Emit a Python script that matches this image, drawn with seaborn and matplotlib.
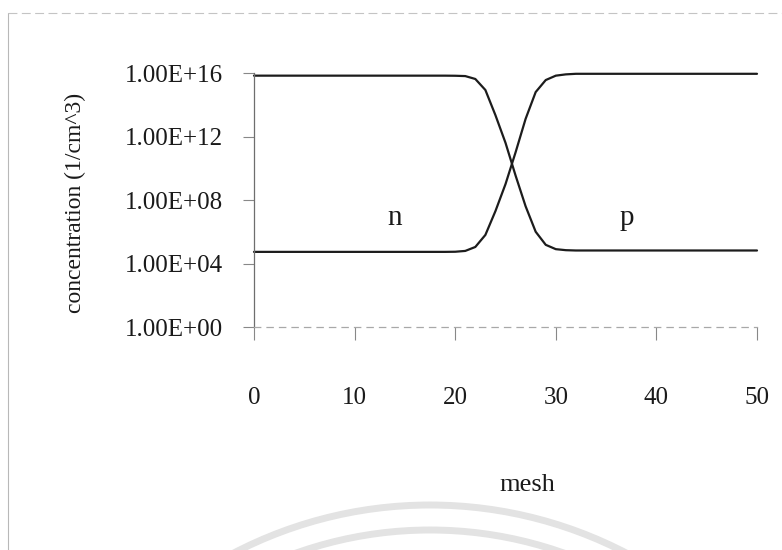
import matplotlib
matplotlib.use("Agg")
import matplotlib.pyplot as plt
from matplotlib.lines import Line2D
from matplotlib.patches import Arc
from matplotlib.ticker import NullLocator
import pandas as pd
import seaborn as sns

# Mesh index across the p-n junction
mesh = [0, 1, 2, 3, 4, 5, 6, 7, 8, 9, 10, 11, 12, 13, 14, 15, 16, 17, 18, 19, 20,
        21, 22, 23, 24, 25, 26, 27, 28, 29, 30, 31, 32, 33, 34, 35, 36, 37, 38, 39, 40,
        41, 42, 43, 44, 45, 46, 47, 48, 49, 50]

# Electron concentration (1/cm^3)
electrons = [6.8e15, 6.8e15, 6.8e15, 6.8e15, 6.8e15, 6.8e15, 6.8e15, 6.8e15, 6.8e15, 6.8e15,
             6.8e15, 6.8e15, 6.8e15, 6.8e15, 6.8e15, 6.8e15, 6.8e15, 6.8e15, 6.8e15, 6.8e15,
             6.7e15, 6.4e15, 4.2e15, 8.5e14, 2.2e13, 4.0e11, 3.5e9, 4.0e7, 1.0e6, 1.5e5,
             8.0e4, 6.9e4, 6.6e4, 6.6e4, 6.6e4, 6.6e4, 6.6e4, 6.6e4, 6.6e4, 6.6e4,
             6.6e4, 6.6e4, 6.6e4, 6.6e4, 6.6e4, 6.6e4, 6.6e4, 6.6e4, 6.6e4, 6.6e4, 6.6e4]

# Hole concentration (1/cm^3)
holes = [5.4e4, 5.4e4, 5.4e4, 5.4e4, 5.4e4, 5.4e4, 5.4e4, 5.4e4, 5.4e4, 5.4e4,
         5.4e4, 5.4e4, 5.4e4, 5.4e4, 5.4e4, 5.4e4, 5.4e4, 5.4e4, 5.4e4, 5.4e4,
         5.5e4, 6.2e4, 1.1e5, 6.3e5, 2.0e7, 1.0e9, 1.0e11, 1.3e13, 6.3e14, 3.6e15,
         6.8e15, 8.2e15, 8.9e15, 8.9e15, 8.9e15, 8.9e15, 8.9e15, 8.9e15, 8.9e15, 8.9e15,
         8.9e15, 8.9e15, 8.9e15, 8.9e15, 8.9e15, 8.9e15, 8.9e15, 8.9e15, 8.9e15, 8.9e15, 8.9e15]

carriers = ["electrons", "holes"]
x_ticks = [0, 10, 20, 30, 40, 50]
y_ticks = [1e0, 1e4, 1e8, 1e12, 1e16]
y_tick_labels = ["1.00E+00", "1.00E+04", "1.00E+08", "1.00E+12", "1.00E+16"]
region_labels = ["n", "p"]

df = pd.DataFrame({
    "mesh": mesh + mesh,
    "concentration": electrons + holes,
    "carrier": [carriers[0]] * len(mesh) + [carriers[1]] * len(mesh),
})

sns.set_theme(style="white")
plt.rcParams["font.family"] = ["Liberation Serif", "DejaVu Serif"]

W, H = 782, 550
fig = plt.figure(figsize=(W / 100, H / 100), dpi=100)
fig.patch.set_facecolor("white")
ax = fig.add_axes([254 / W, 1 - 327 / H, 503 / W, (327 - 73) / H])

sns.lineplot(data=df, x="mesh", y="concentration", hue="carrier",
             palette=["#1c1c1c", "#1c1c1c"], linewidth=1.6, legend=False,
             ax=ax, clip_on=False)
for line in ax.get_lines():
    line.set_solid_joinstyle("round")

ax.set_yscale("log")
ax.set_ylim(1e0, 1e16)
ax.set_xlim(0, 50)
ax.set_yticks(y_ticks, y_tick_labels)
ax.set_xticks(x_ticks, [str(v) for v in x_ticks])
ax.yaxis.set_minor_locator(NullLocator())
ax.tick_params(axis="y", direction="out", length=8, width=0.8, color="#888888",
               pad=14, labelsize=18, labelcolor="#1a1a1a", left=True)
ax.tick_params(axis="x", direction="out", length=9, width=0.8, color="#888888",
               pad=34, labelsize=18, labelcolor="#1a1a1a", bottom=True)

for side in ("top", "right"):
    ax.spines[side].set_visible(False)
ax.spines["left"].set_color("#6e6e6e")
ax.spines["left"].set_linewidth(0.9)
ax.spines["bottom"].set_color("#a8a8a8")
ax.spines["bottom"].set_linewidth(0.9)
ax.spines["bottom"].set_linestyle((0, (5, 5)))

ax.set_xlabel("mesh", fontsize=19, color="#1a1a1a")
ax.xaxis.label.set_va("center")
ax.xaxis.set_label_coords(0.543, -0.622)
ax.set_ylabel("concentration (1/cm^3)", fontsize=17, color="#1a1a1a")
ax.yaxis.label.set_va("center")
ax.yaxis.set_label_coords(-0.355, 0.488)

ax.text(14.0, 7.4e6, region_labels[0], fontsize=21, ha="center", va="center", color="#1a1a1a")
ax.text(37.1, 7.4e6, region_labels[1], fontsize=21, ha="center", va="center", color="#1a1a1a")

# Chart-area border (left and top edges)
fig.add_artist(Line2D([8 / W, 8 / W], [0, 1 - 13 / H], transform=fig.transFigure,
                      color="#b8b8b8", lw=0.8))
fig.add_artist(Line2D([8 / W, 1], [1 - 13 / H, 1 - 13 / H], transform=fig.transFigure,
                      color="#c4c4c4", lw=0.8, linestyle=(0, (8, 4))))

# Faint watermark arcs along the bottom edge
for radius in (425, 400):
    fig.add_artist(Arc((430 / W, 1 - 930 / H), 2 * radius / W, 2 * radius / H,
                       theta1=40, theta2=140, transform=fig.transFigure,
                       color="#e3e3e3", lw=5, zorder=0))

fig.savefig("out.png", dpi=100)
